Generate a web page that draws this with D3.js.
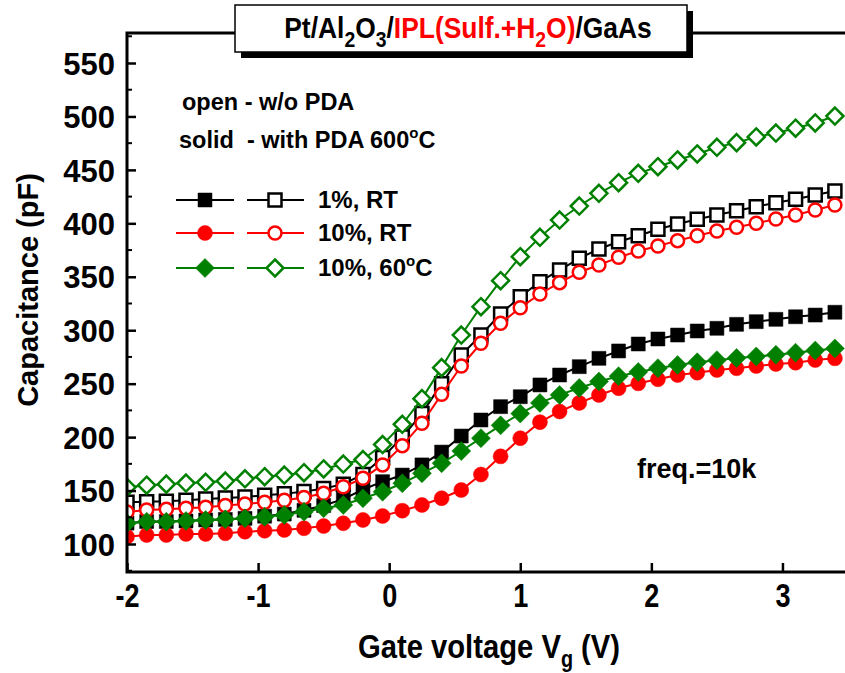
<!DOCTYPE html>
<html><head><meta charset="utf-8">
<script src="https://cdn.jsdelivr.net/npm/d3@7"></script>
<style>
body{margin:0;background:#fff}
text{font-family:"Liberation Sans",Arial,sans-serif;font-weight:bold}
</style></head>
<body><svg id="chart" width="845" height="673"></svg>
<script>
// ---- data ----
const voltages = [-2.0,-1.85,-1.7,-1.55,-1.4,-1.25,-1.1,-0.95,-0.8,-0.65,-0.5,-0.35,-0.2,-0.05,0.1,0.25,0.4,0.55,0.7,0.85,1.0,1.15,1.3,1.45,1.6,1.75,1.9,2.05,2.2,2.35,2.5,2.65,2.8,2.95,3.1,3.25,3.4];
const rt1_withPDA  = [119.5,121,121,121.5,122.5,123,124,126,128,131.5,136,142,151,158.3,164.5,174,186,201,216,228.5,237.8,248.8,258.1,265.9,273.7,280.6,287.1,291.8,295.5,299.3,301.8,305.5,308,310.2,312.6,314.2,316.8];
const rt1_noPDA    = [139,139.5,140,141,142,143,144,145.5,147,149,152,156,165,181,200,222,250,276.8,295.5,315.2,331.4,345.4,356.3,367.3,376,382.8,388.4,394.4,399.4,403.8,407.8,411.8,415.6,419.3,422.5,426.5,430.2];
const rt10_withPDA = [106.8,108.4,108.4,109.4,109.4,110,111.5,112.4,113.1,114.7,116.8,119.4,122.5,126.2,131.2,136.5,142.8,150.5,165,182,199,214,224,232,239.4,245.7,250.3,254.1,258.1,260.3,262.8,264.4,266.5,268.4,269.6,272.1,273.7];
const rt10_noPDA   = [130,131.8,132.5,133.4,134.3,136,137.5,139,141,143.5,147.5,153.5,161.5,174,192,213,240,266.5,287.8,306.5,321.1,333.9,344.5,354.2,361,368.2,374.1,378.8,383.8,388.4,392.8,396.3,400,404,407.8,412.5,417.2];
const t60_withPDA  = [119.4,120.9,120.9,121.5,122.5,123.1,124,125.5,127.1,130.2,133.4,136.5,142.8,148.9,156.8,166.1,175.5,187,199,211,222,232,239.5,246,252,257,261,264.5,267.5,270,272,274,275.5,277,279,281,283];
const t60_noPDA    = [153,155,156,157,157.7,158.9,161,163,164.5,166.7,170.2,174.8,179,193,212,236,265,295.5,322,346.3,368.8,386.9,403.1,416.2,428.1,438,446.8,453,459.3,464.9,471.1,475.5,480.8,484.5,489,493.9,500.4];
const xTicks = [-2,-1,0,1,2,3];
const xTickLabels = ["-2","-1","0","1","2","3"];
const yTicks = [100,150,200,250,300,350,400,450,500,550];
const legendLabels = ["1%, RT","10%, RT","10%, 60"];

const series = [
  {vals: rt1_withPDA,  color:"#000000", shape:"square",  open:false},
  {vals: rt1_noPDA,    color:"#000000", shape:"square",  open:true},
  {vals: rt10_withPDA, color:"#ff0000", shape:"circle",  open:false},
  {vals: rt10_noPDA,   color:"#ff0000", shape:"circle",  open:true},
  {vals: t60_withPDA,  color:"#008000", shape:"diamond", open:false},
  {vals: t60_noPDA,    color:"#008000", shape:"diamond", open:true}
];

// ---- layout ----
const svg = d3.select("#chart");
const L=127, R=848, T=33, B=572;
const x = d3.scaleLinear().domain([-2,3.5]).range([L,R]);
const y = d3.scaleLinear().domain([100,550]).range([544,63]);

function markerPath(shape, open){
  if(shape==="square"){ const s = open?6.5:7; return `M${-s},${-s}H${s}V${s}H${-s}Z`; }
  if(shape==="diamond"){ const s = open?8.5:9.5; return `M0,${-s}L${s},0L0,${s}L${-s},0Z`; }
  const r = open?6.5:7.5;
  return `M${r},0A${r},${r} 0 1,1 ${-r},0A${r},${r} 0 1,1 ${r},0Z`;
}

svg.append("defs").append("clipPath").attr("id","clip")
  .append("rect").attr("x",L).attr("y",T).attr("width",R-L).attr("height",B-T);

const plot = svg.append("g").attr("clip-path","url(#clip)");
const line = d3.line().x((d,i)=>x(voltages[i])).y(d=>y(d));
series.forEach(s=>{
  const g = plot.append("g");
  g.append("path").attr("d",line(s.vals)).attr("fill","none").attr("stroke",s.color).attr("stroke-width",2);
  g.selectAll("path.m").data(s.vals).enter().append("path").attr("class","m")
    .attr("transform",(d,i)=>`translate(${x(voltages[i])},${y(d)})`)
    .attr("d",markerPath(s.shape,s.open))
    .attr("fill",s.open?"#fff":s.color)
    .attr("stroke",s.color).attr("stroke-width",s.open?2.5:0.5);
});

// frame
svg.append("rect").attr("x",L).attr("y",T).attr("width",R-L).attr("height",B-T)
  .attr("fill","none").attr("stroke","#000").attr("stroke-width",3);

// y axis
const yAxis = d3.axisLeft(y).tickValues(yTicks).tickSize(-9).tickPadding(12);
const ya = svg.append("g").attr("transform",`translate(${L},0)`).call(yAxis);
ya.select(".domain").remove();
ya.selectAll(".tick line").attr("stroke-width",2.5);
ya.selectAll(".tick text").attr("font-size",31).attr("font-family","Liberation Sans, Arial").attr("font-weight","bold").attr("fill","#000").attr("dy","0.36em");
// minor y ticks
const yMinor = yTicks.map(v=>v+25).concat([75]).filter(v=>y(v)>T && y(v)<B);
svg.selectAll("line.ym").data(yMinor).enter().append("line")
  .attr("x1",L).attr("x2",L+5).attr("y1",d=>y(d)).attr("y2",d=>y(d)).attr("stroke","#000").attr("stroke-width",2);

// x axis
const xAxis = d3.axisBottom(x).tickValues(xTicks).tickSize(-9).tickPadding(12).tickFormat((d,i)=>xTickLabels[i]);
const xa = svg.append("g").attr("transform",`translate(0,${B})`).call(xAxis);
xa.select(".domain").remove();
xa.selectAll(".tick line").attr("stroke-width",2.5);
xa.selectAll(".tick text").attr("font-size",33).attr("font-family","Liberation Sans, Arial").attr("font-weight","bold").attr("fill","#000")
  .attr("transform","scale(0.82,1)");

// axis titles
svg.append("text").attr("transform","translate(38,290) rotate(-90)").attr("text-anchor","middle")
  .attr("font-size",29).text("Capacitance (pF)");
const xt = svg.append("text").attr("text-anchor","middle").attr("font-size",34)
  .attr("transform","translate(489,658) scale(0.86,1)");
xt.append("tspan").text("Gate voltage V");
xt.append("tspan").attr("font-size",23).attr("dy",9).text("g");
xt.append("tspan").attr("dy",-9).text(" (V)");

// title box
svg.append("rect").attr("x",241).attr("y",11).attr("width",452).attr("height",47).attr("fill","#000");
svg.append("rect").attr("x",235).attr("y",5).attr("width",452).attr("height",47).attr("fill","#fff").attr("stroke","#000").attr("stroke-width",1.5);
const tt = svg.append("text").attr("text-anchor","middle").attr("font-size",30)
  .attr("transform","translate(468,38) scale(0.88,1)");
const parts = [["Pt/Al","#000",0],["2","#000",1],["O","#000",0],["3","#000",1],["/","#000",0],["IPL(Sulf.+H","#ff0000",0],["2","#ff0000",1],["O)","#ff0000",0],["/GaAs","#000",0]];
let prevSub=0;
parts.forEach(p=>{
  const t = tt.append("tspan").attr("fill",p[1]).text(p[0]);
  if(p[2]) t.attr("font-size",22);
  const dy = (p[2]?9:0)-(prevSub?9:0);
  if(dy) t.attr("dy",dy);
  prevSub=p[2];
});
// annotations
svg.append("text").attr("x",182).attr("y",110).attr("font-size",23.5).text("open - w/o PDA");
const sl = svg.append("text").attr("x",179).attr("y",148).attr("font-size",23.5);
sl.append("tspan").text("solid\u00a0\u00a0- with PDA 600");
sl.append("tspan").attr("font-size",15).attr("dy",-10).text("o");
sl.append("tspan").attr("dy",10).text("C");
svg.append("text").attr("x",637).attr("y",478).attr("font-size",27).text("freq.=10k");

// legend
const legY=[200,233,268];
const legSeries=[[series[0],series[1]],[series[2],series[3]],[series[4],series[5]]];
legSeries.forEach((pair,k)=>{
  const yy=legY[k];
  [[176,234,205],[247,304,275]].forEach((seg,j)=>{
    const s=pair[j];
    svg.append("line").attr("x1",seg[0]).attr("x2",seg[1]).attr("y1",yy).attr("y2",yy).attr("stroke",s.color).attr("stroke-width",2);
    svg.append("path").attr("transform",`translate(${seg[2]},${yy})`).attr("d",markerPath(s.shape,s.open))
      .attr("fill",s.open?"#fff":s.color).attr("stroke",s.color).attr("stroke-width",s.open?2.5:0.5);
  });
  const t=svg.append("text").attr("x",318).attr("y",yy+8).attr("font-size",24).text(legendLabels[k]);
  if(k===2){ t.append("tspan").attr("font-size",15).attr("dy",-10).text("o"); t.append("tspan").attr("dy",10).text("C"); }
});
</script></body></html>
